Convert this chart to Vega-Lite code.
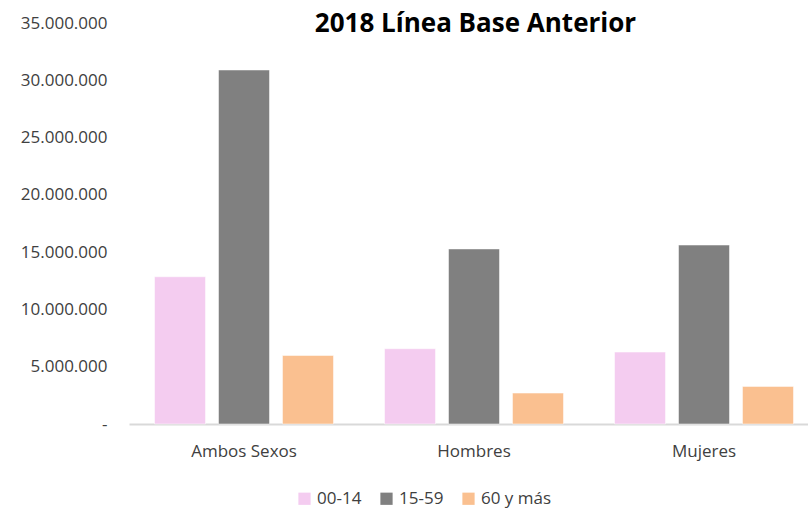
{
  "$schema": "https://vega.github.io/schema/vega-lite/v6.json",
  "autosize": "none",
  "width": 679,
  "height": 401,
  "padding": {"left": 129, "top": 23, "right": 0, "bottom": 86},
  "background": "white",
  "title": {
    "text": "2018 Línea Base Anterior",
    "font": "Open Sans",
    "fontSize": 26,
    "fontWeight": "bold",
    "color": "#000000",
    "anchor": "middle",
    "dx": 7,
    "dy": 0,
    "offset": -23
  },
  "data": {
    "values": [
      {"sexo": "Ambos Sexos", "edad": "00-14", "valor": 12850000},
      {"sexo": "Ambos Sexos", "edad": "15-59", "valor": 30900000},
      {"sexo": "Ambos Sexos", "edad": "60 y más", "valor": 5980000},
      {"sexo": "Hombres", "edad": "00-14", "valor": 6570000},
      {"sexo": "Hombres", "edad": "15-59", "valor": 15280000},
      {"sexo": "Hombres", "edad": "60 y más", "valor": 2700000},
      {"sexo": "Mujeres", "edad": "00-14", "valor": 6280000},
      {"sexo": "Mujeres", "edad": "15-59", "valor": 15620000},
      {"sexo": "Mujeres", "edad": "60 y más", "valor": 3280000}
    ]
  },
  "mark": {"type": "bar", "stroke": "white", "strokeWidth": 0.5},
  "encoding": {
    "x": {
      "field": "sexo",
      "type": "nominal",
      "sort": ["Ambos Sexos", "Hombres", "Mujeres"],
      "scale": {"range": [0, 690], "paddingInner": 0.222, "paddingOuter": 0.111},
      "axis": {
        "title": null,
        "labelAngle": 0,
        "labelFont": "Open Sans",
        "labelFontSize": 17,
        "labelColor": "#404040",
        "labelPadding": 19,
        "ticks": false,
        "domainColor": "#d9d9d9",
        "domainWidth": 2
      }
    },
    "xOffset": {
      "field": "edad",
      "type": "nominal",
      "sort": ["00-14", "15-59", "60 y más"],
      "scale": {"paddingInner": 0.203, "paddingOuter": 0}
    },
    "y": {
      "field": "valor",
      "type": "quantitative",
      "scale": {"domain": [0, 35000000], "nice": false},
      "axis": {
        "title": null,
        "values": [0, 5000000, 10000000, 15000000, 20000000, 25000000, 30000000, 35000000],
        "labelExpr": "datum.value == 0 ? '-' : replace(format(datum.value, ','), regexp(',', 'g'), '.')",
        "labelFont": "Open Sans",
        "labelFontSize": 17,
        "labelColor": "#404040",
        "labelPadding": 22,
        "ticks": false,
        "domain": false,
        "grid": false
      }
    },
    "color": {
      "field": "edad",
      "type": "nominal",
      "sort": ["00-14", "15-59", "60 y más"],
      "scale": {"domain": ["00-14", "15-59", "60 y más"], "range": ["#F4CCF0", "#808080", "#FAC090"]},
      "legend": {
        "title": null,
        "orient": "none",
        "direction": "horizontal",
        "legendX": 167,
        "legendY": 467,
        "symbolType": "square",
        "symbolSize": 150,
        "symbolStrokeWidth": 0,
        "labelFont": "Open Sans",
        "labelFontSize": 17,
        "labelColor": "#404040",
        "labelOffset": 4,
        "columnPadding": 16
      }
    }
  },
  "config": {"view": {"stroke": null}}
}
